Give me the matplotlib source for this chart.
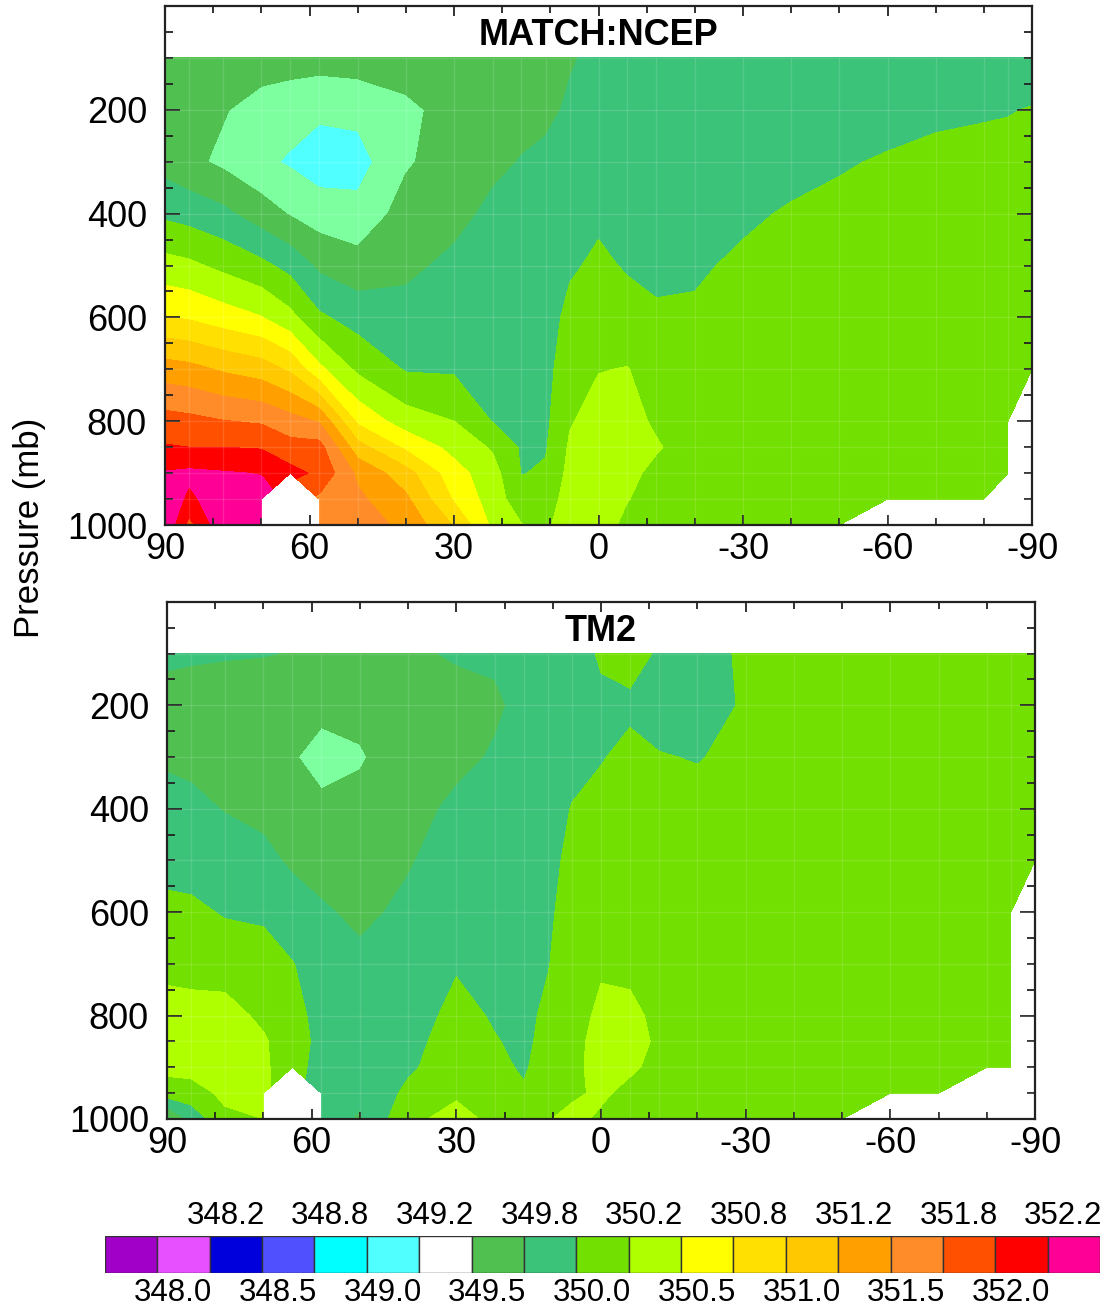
import numpy as np
import matplotlib.pyplot as plt
from matplotlib.ticker import MultipleLocator, FixedLocator

plt.rcParams['font.family'] = ['Liberation Sans', 'DejaVu Sans']

nan = float('nan')

# grid of the zonal-mean field
lats = [90, 85, 78, 70, 64, 58, 50, 40, 30, 22, 16, 11, 6, 0,
        -6, -12, -20, -30, -40, -50, -60, -70, -80, -85, -90]
pressure = [100, 200, 300, 400, 500, 600, 700, 800, 850, 900, 950, 1000]

# one row per latitude, values at each pressure level (nan = below ground)
ncep_vals = [
    [349.60, 349.62, 349.65, 349.95, 350.34, 350.76, 351.37, 351.85, 352.02, 352.27, 352.40, 352.45],
    [349.62, 349.58, 349.56, 349.90, 350.30, 350.72, 351.33, 351.82, 352.00, 352.30, 352.20, 351.92],
    [349.62, 349.52, 349.45, 349.81, 350.19, 350.62, 351.22, 351.76, 352.00, 352.27, 352.38, 352.42],
    [349.62, 349.40, 349.30, 349.62, 350.06, 350.51, 351.13, 351.72, 351.98, 352.24, 352.35, 352.40],
    [349.60, 349.36, 349.22, 349.48, 349.92, 350.32, 350.96, 351.60, 351.84, 352.08, nan, nan],
    [349.60, 349.30, 349.12, 349.38, 349.70, 350.04, 350.56, 351.48, 351.85, 351.95, 351.70, 351.60],
    [349.62, 349.32, 349.15, 349.33, 349.60, 349.90, 350.20, 350.70, 351.10, 351.45, 351.55, 351.60],
    [349.62, 349.45, 349.47, 349.60, 349.70, 349.83, 349.98, 350.37, 350.70, 351.10, 351.30, 351.45],
    [349.58, 349.58, 349.62, 349.68, 349.80, 349.90, 349.97, 350.25, 350.42, 350.60, 350.72, 350.98],
    [349.60, 349.64, 349.70, 349.80, 349.85, 349.90, 349.93, 349.99, 350.22, 350.35, 350.38, 350.45],
    [349.62, 349.68, 349.76, 349.82, 349.86, 349.88, 349.90, 349.94, 349.97, 349.99, 350.10, 350.26],
    [349.65, 349.70, 349.80, 349.85, 349.88, 349.90, 349.92, 349.95, 349.98, 350.03, 350.12, 350.20],
    [349.73, 349.78, 349.85, 349.92, 349.97, 350.06, 350.15, 350.23, 350.28, 350.32, 350.36, 350.40],
    [349.80, 349.84, 349.90, 349.96, 350.04, 350.14, 350.24, 350.35, 350.40, 350.42, 350.42, 350.38],
    [349.80, 349.84, 349.88, 349.93, 349.98, 350.08, 350.26, 350.32, 350.33, 350.30, 350.26, 350.18],
    [349.80, 349.83, 349.86, 349.90, 349.95, 350.03, 350.12, 350.22, 350.27, 350.20, 350.15, 350.12],
    [349.78, 349.82, 349.85, 349.90, 349.96, 350.04, 350.10, 350.14, 350.15, 350.15, 350.14, 350.12],
    [349.78, 349.82, 349.87, 349.95, 350.05, 350.10, 350.12, 350.14, 350.15, 350.15, 350.15, 350.14],
    [349.78, 349.83, 349.90, 350.03, 350.08, 350.10, 350.12, 350.13, 350.14, 350.14, 350.14, 350.14],
    [349.80, 349.88, 349.98, 350.05, 350.08, 350.10, 350.12, 350.13, 350.14, 350.14, 350.14, 350.14],
    [349.82, 349.92, 350.02, 350.06, 350.08, 350.10, 350.11, 350.12, 350.12, 350.12, 350.12, nan],
    [349.84, 349.96, 350.05, 350.08, 350.10, 350.10, 350.11, 350.12, 350.12, 350.12, 350.12, nan],
    [349.86, 349.98, 350.06, 350.08, 350.10, 350.10, 350.11, 350.12, 350.12, 350.12, 350.12, nan],
    [349.88, 349.99, 350.06, 350.08, 350.10, 350.10, 350.11, 350.12, 350.12, 350.12, nan, nan],
    [349.88, 350.01, 350.06, 350.08, 350.10, 350.10, 350.10, nan, nan, nan, nan, nan],
]

tm2_vals = [
    [349.80, 349.65, 349.72, 349.82, 349.92, 350.06, 350.20, 350.32, 350.35, 350.32, 350.12, 349.45],
    [349.78, 349.65, 349.70, 349.80, 349.90, 350.05, 350.18, 350.32, 350.36, 350.33, 350.15, 349.82],
    [349.77, 349.62, 349.64, 349.74, 349.86, 349.98, 350.14, 350.34, 350.40, 350.38, 350.30, 350.20],
    [349.76, 349.60, 349.60, 349.70, 349.80, 349.96, 350.10, 350.20, 350.28, 350.30, 350.30, 350.25],
    [349.74, 349.58, 349.52, 349.60, 349.72, 349.84, 350.01, 350.08, 350.10, 350.08, nan, nan],
    [349.70, 349.56, 349.42, 349.55, 349.66, 349.78, 349.88, 349.92, 349.94, 349.92, 349.90, 349.88],
    [349.68, 349.56, 349.48, 349.56, 349.62, 349.70, 349.80, 349.86, 349.88, 349.86, 349.80, 349.72],
    [349.70, 349.60, 349.62, 349.68, 349.73, 349.80, 349.85, 349.90, 349.93, 349.96, 350.05, 350.20],
    [349.78, 349.64, 349.70, 349.79, 349.86, 349.92, 349.98, 350.06, 350.10, 350.14, 350.22, 350.32],
    [349.78, 349.72, 349.77, 349.84, 349.88, 349.92, 349.95, 349.98, 350.01, 350.04, 350.10, 350.20],
    [349.82, 349.80, 349.82, 349.86, 349.90, 349.92, 349.94, 349.95, 349.96, 349.98, 350.02, 350.10],
    [349.84, 349.86, 349.88, 349.90, 349.93, 349.96, 349.99, 350.04, 350.06, 350.08, 350.15, 350.24],
    [349.88, 349.90, 349.93, 350.01, 350.06, 350.10, 350.12, 350.15, 350.18, 350.20, 350.22, 350.30],
    [350.03, 349.95, 349.99, 350.05, 350.10, 350.15, 350.22, 350.30, 350.33, 350.32, 350.28, 350.22],
    [350.06, 349.97, 350.04, 350.08, 350.10, 350.14, 350.20, 350.30, 350.32, 350.28, 350.20, 350.16],
    [349.98, 349.92, 350.01, 350.04, 350.08, 350.12, 350.15, 350.20, 350.22, 350.20, 350.16, 350.14],
    [349.90, 349.88, 349.99, 350.06, 350.08, 350.10, 350.12, 350.14, 350.15, 350.15, 350.14, 350.13],
    [350.04, 350.03, 350.05, 350.08, 350.09, 350.10, 350.11, 350.12, 350.13, 350.13, 350.13, 350.13],
    [350.06, 350.05, 350.06, 350.08, 350.09, 350.10, 350.11, 350.12, 350.13, 350.13, 350.13, 350.13],
    [350.07, 350.06, 350.07, 350.08, 350.09, 350.10, 350.11, 350.12, 350.12, 350.13, 350.13, 350.12],
    [350.08, 350.07, 350.08, 350.09, 350.10, 350.10, 350.11, 350.12, 350.12, 350.12, 350.12, nan],
    [350.08, 350.08, 350.08, 350.09, 350.10, 350.10, 350.11, 350.12, 350.12, 350.12, 350.12, nan],
    [350.08, 350.08, 350.08, 350.09, 350.10, 350.10, 350.11, 350.12, 350.12, 350.12, nan, nan],
    [350.08, 350.08, 350.08, 350.09, 350.10, 350.10, 350.11, 350.12, 350.12, 350.12, nan, nan],
    [350.08, 350.08, 350.08, 350.09, 350.10, nan, nan, nan, nan, nan, nan, nan],
]

contour_levels = [348.0, 348.25, 348.5, 348.75, 349.0, 349.25, 349.5, 349.75, 350.0,
                  350.25, 350.5, 350.75, 351.0, 351.25, 351.5, 351.75, 352.0, 352.25]
labels_low = ["348.0", "348.5", "349.0", "349.5", "350.0", "350.5", "351.0", "351.5", "352.0"]
labels_high = ["348.2", "348.8", "349.2", "349.8", "350.2", "350.8", "351.2", "351.8", "352.2"]

bar_colors = ['#A000C8', '#E650FF', '#0000DC', '#5050FF', '#00FFFF', '#50FFFF', '#FFFFFF',
              '#50C050', '#3CC37A', '#72E000', '#B0FF00', '#FFFF00', '#FFE000', '#FFC800',
              '#FFA000', '#FF8C28', '#FF5000', '#FF0000', '#FF0096']
# the plots fill the 349.25-349.5 band in mint rather than white
fill_colors = ['#A000C8', '#E650FF', '#0000DC', '#5050FF', '#00FFFF', '#50FFFF', '#7DFFA0',
               '#50C050', '#3CC37A', '#72E000', '#B0FF00', '#FFFF00', '#FFE000', '#FFC800',
               '#FFA000', '#FF8C28', '#FF5000', '#FF0000', '#FF0096']

lat_ticks = [90, 60, 30, 0, -30, -60, -90]
lat_tick_labels = ["90", "60", "30", "0", "-30", "-60", "-90"]
p_ticks = [200, 400, 600, 800, 1000]
p_tick_labels = ["200", "400", "600", "800", "1000"]


def draw_panel(ax, vals, title):
    z = np.ma.masked_invalid(np.array(vals, dtype=float).T)
    ax.contourf(lats, pressure, z, levels=[340] + contour_levels + [360], colors=fill_colors)
    ax.vlines(lats, pressure[0], pressure[-1], colors='white', alpha=0.13, lw=1)
    ax.hlines(pressure, 90, -90, colors='white', alpha=0.13, lw=1)
    ax.set_xlim(90, -90)
    ax.set_ylim(1000, 0)
    ax.xaxis.set_major_locator(FixedLocator(lat_ticks))
    ax.set_xticklabels(lat_tick_labels)
    ax.xaxis.set_minor_locator(MultipleLocator(10))
    ax.yaxis.set_major_locator(FixedLocator(p_ticks))
    ax.set_yticklabels(p_tick_labels)
    ax.yaxis.set_minor_locator(MultipleLocator(50))
    ax.tick_params(axis='both', which='both', direction='in', top=True, right=True,
                   color='#222222', width=1.3)
    ax.tick_params(axis='x', which='major', length=7.5, labelsize=26, pad=5)
    ax.tick_params(axis='x', which='minor', length=5)
    ax.tick_params(axis='y', which='major', length=11, labelsize=26, pad=13)
    ax.tick_params(axis='y', which='minor', length=5.5)
    for s in ax.spines.values():
        s.set_linewidth(1.6)
        s.set_color('#222222')
    ax.text(0.5, 0.943, title, transform=ax.transAxes, ha='center', va='center',
            fontsize=26, fontweight='bold')


fig = plt.figure(figsize=(11.09, 13.06), dpi=100)
ax1 = fig.add_axes([0.1488, 0.598, 0.7818, 0.3974])
ax2 = fig.add_axes([0.1506, 0.1432, 0.7827, 0.3959])
draw_panel(ax1, ncep_vals, "MATCH:NCEP")
draw_panel(ax2, tm2_vals, "TM2")

fig.text(0.027, 1 - 528 / 1306, "Pressure (mb)", rotation=90, ha='center', va='center',
         fontsize=25)

# label bar
cax = fig.add_axes([0.0947, 0.0253, 0.8972, 0.0283])
cax.bar(range(len(bar_colors)), 1, width=1, bottom=0, color=bar_colors,
        edgecolor='#333333', linewidth=1, align='center')
cax.set_xlim(-0.5, len(bar_colors) - 0.5)
cax.set_ylim(0, 1)
cax.axis('off')
for k, lab in enumerate(labels_low):
    cax.text(2 * k + 0.5 + 0.3, -0.55, lab, ha='center', va='center', fontsize=22.5)
for k, lab in enumerate(labels_high):
    cax.text(2 * k + 1.5 + 0.3, 1.55, lab, ha='center', va='center', fontsize=22.5)

fig.savefig("out.png", dpi=100)
